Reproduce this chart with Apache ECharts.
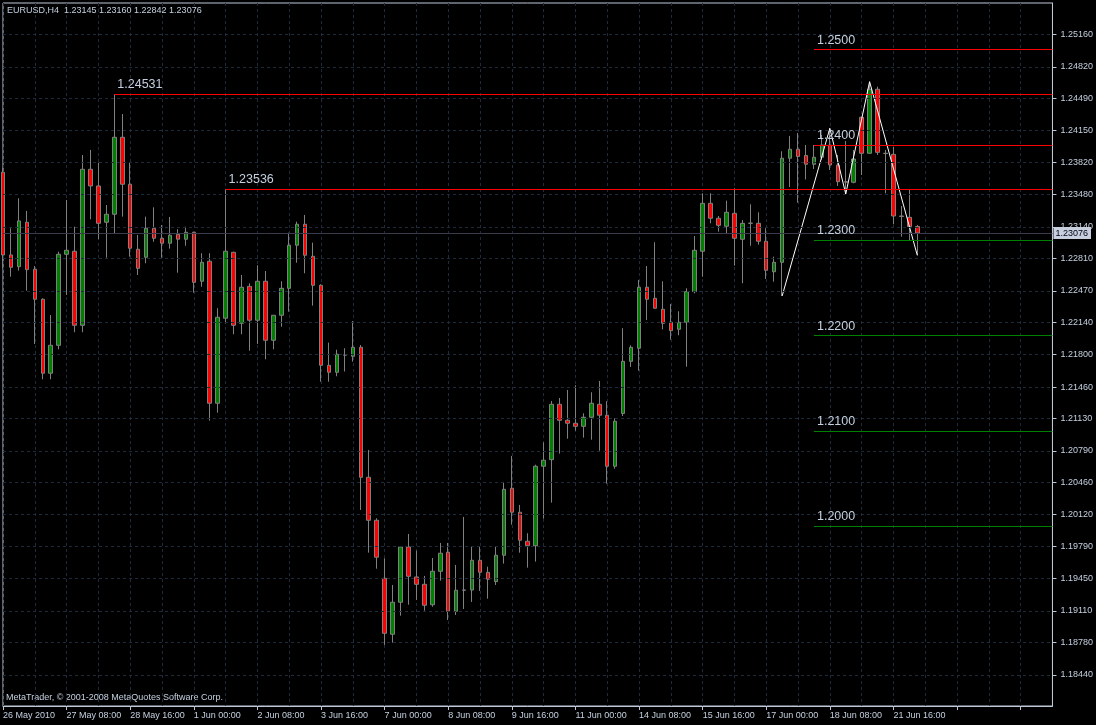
<!DOCTYPE html>
<html>
<head>
<meta charset="utf-8">
<script src="https://cdn.jsdelivr.net/npm/echarts@6/dist/echarts.min.js"></script>
<style>
html,body{margin:0;padding:0;background:#000;}
#chart{width:1096px;height:725px;}
</style>
</head>
<body>
<div id="chart"></div>
<script>
// ---- data (EURUSD, H4) ----
const symbolName = 'EURUSD,H4';
const xTickLabels = ['26 May 2010','27 May 08:00','28 May 16:00','1 Jun 00:00','2 Jun 08:00','3 Jun 16:00','7 Jun 00:00','8 Jun 08:00','9 Jun 16:00','11 Jun 00:00','14 Jun 08:00','15 Jun 16:00','17 Jun 00:00','18 Jun 08:00','21 Jun 16:00'];
const yTicks = [1.25160,1.24820,1.24490,1.24150,1.23820,1.23480,1.23140,1.22810,1.22470,1.22140,1.21800,1.21460,1.21130,1.20790,1.20460,1.20120,1.19790,1.19450,1.19110,1.18780,1.18440,1.18110];

const openP = [1.23714,1.22846,1.22723,1.23189,1.22696,1.22381,1.21605,1.21898,1.22853,1.22885,
1.22108,1.23745,1.2357,1.23189,1.23273,1.24081,1.23588,1.22906,1.22822,1.23126,
1.23021,1.22969,1.23063,1.23011,1.23084,1.2257,1.2278,1.2129,1.22182,1.22874,
1.22129,1.22517,1.22161,1.2257,1.21951,1.22213,1.22496,1.22948,1.23168,1.22832,
1.22528,1.21688,1.21615,1.21797,1.21783,1.21877,1.20513,1.20062,1.19453,1.18866,
1.19202,1.19782,1.19467,1.1939,1.19176,1.19527,1.19726,1.19107,1.19328,1.1933,
1.19642,1.19516,1.19418,1.19695,1.20398,1.20146,1.19842,1.19795,1.20629,1.20698,
1.21279,1.21111,1.2108,1.21048,1.21143,1.21279,1.21164,1.20629,1.21183,1.2173,
1.21867,1.22507,1.22391,1.22276,1.2214,1.22066,1.2214,1.22461,1.22885,1.23388,
1.23231,1.23147,1.23283,1.23011,1.23178,1.23178,1.2299,1.2267,1.22769,1.23861,
1.23955,1.2389,1.23798,1.23871,1.24,1.2379,1.23615,1.23609,1.24291,1.23913,
1.24585,1.23913,1.23902,1.23255,1.23241,1.23145];
const highP = [1.23759,1.23126,1.23441,1.23308,1.2273,1.22391,1.22216,1.2288,1.23423,1.23143,
1.23895,1.23948,1.23814,1.2337,1.24531,1.24325,1.23814,1.23056,1.23248,1.23346,
1.23161,1.23245,1.23116,1.23143,1.2309,1.22864,1.22864,1.22287,1.23536,1.2288,
1.22636,1.22549,1.22738,1.22678,1.22216,1.2257,1.2308,1.23195,1.23266,1.22975,
1.22538,1.21926,1.21852,1.21867,1.22153,1.21901,1.208,1.20083,1.19663,1.19383,
1.19792,1.19918,1.19743,1.19478,1.19666,1.19824,1.19824,1.19593,1.20097,1.19782,
1.19782,1.19575,1.19792,1.20464,1.20737,1.20223,1.19926,1.20645,1.2088,1.21314,
1.21345,1.21429,1.21479,1.21185,1.21405,1.21524,1.21311,1.21132,1.22077,1.21898,
1.22584,1.2273,1.22979,1.2257,1.22332,1.22255,1.22496,1.23045,1.23493,1.23493,
1.23255,1.23416,1.23546,1.23213,1.23378,1.23294,1.23126,1.22828,1.23934,1.24095,
1.24126,1.24,1.24,1.24105,1.24175,1.23895,1.24042,1.23948,1.24297,1.24664,
1.24612,1.23948,1.23982,1.2336,1.23535,1.2316];
const lowP = [1.22706,1.22618,1.22681,1.22471,1.21912,1.21542,1.21542,1.21856,1.22426,1.22035,
1.22035,1.2322,1.23011,1.22818,1.23074,1.23248,1.22828,1.22636,1.22759,1.22985,
1.22818,1.22912,1.2266,1.22943,1.2245,1.22513,1.21107,1.21191,1.22129,1.22014,
1.22014,1.21842,1.21912,1.21751,1.21856,1.22093,1.22251,1.22765,1.22654,1.22314,
1.21516,1.21516,1.21573,1.21623,1.21726,1.2017,1.19722,1.19554,1.18754,1.18778,
1.19061,1.19176,1.19226,1.19113,1.19155,1.19428,1.19016,1.19068,1.19131,1.19205,
1.1932,1.19239,1.19383,1.19607,1.20016,1.19722,1.19565,1.19628,1.20079,1.20247,
1.20761,1.20918,1.21002,1.20929,1.20908,1.20792,1.20446,1.20603,1.21156,1.21671,
1.21632,1.22164,1.22284,1.22066,1.21957,1.22003,1.21674,1.22444,1.22618,1.23178,
1.2309,1.23074,1.22734,1.22549,1.22943,1.22954,1.22594,1.22566,1.22416,1.23559,
1.23395,1.23638,1.23748,1.23843,1.23738,1.2357,1.23486,1.23598,1.23685,1.2391,
1.23895,1.23493,1.23168,1.23038,1.22993,1.22842];
const closeP = [1.22846,1.22717,1.23203,1.22692,1.22381,1.21605,1.21898,1.22853,1.22895,1.22108,
1.23745,1.2357,1.23178,1.23273,1.24081,1.23588,1.22916,1.22706,1.23126,1.23021,
1.22969,1.23053,1.23011,1.23084,1.22559,1.22769,1.2129,1.22192,1.22885,1.22108,
1.22507,1.22161,1.2257,1.21951,1.22213,1.22496,1.22948,1.23168,1.22843,1.22528,
1.21688,1.21615,1.21804,1.21795,1.21877,1.20513,1.20062,1.19674,1.18876,1.19202,
1.19782,1.19474,1.1939,1.1917,1.19527,1.19716,1.19107,1.19328,1.1933,1.19642,
1.19516,1.19443,1.19695,1.20387,1.20146,1.19852,1.19795,1.20629,1.20692,1.21279,
1.21111,1.2108,1.21048,1.21143,1.2129,1.21164,1.20629,1.21101,1.2173,1.21877,
1.22507,1.22381,1.22287,1.22129,1.22051,1.2214,1.22461,1.22895,1.23388,1.23231,
1.23157,1.23294,1.23021,1.23178,1.2318,1.2299,1.22685,1.22769,1.23861,1.23955,
1.23879,1.23798,1.23871,1.24,1.2379,1.23615,1.2361,1.23853,1.23913,1.24585,
1.23923,1.2391,1.23255,1.2325,1.23145,1.23076];

// horizontal level objects: price, first bar index, text
const levelPrices = [1.24531, 1.23536, 1.2500, 1.2400, 1.2300, 1.2200, 1.2100, 1.2000];
const levelStartBar = [14, 28, 102, 102, 102, 102, 102, 102];
const levelTexts = ['1.24531','1.23536','1.2500','1.2400','1.2300','1.2200','1.2100','1.2000'];

// zigzag pivots
const zigzagBars = [98, 104, 106, 109, 115];
const zigzagPrices = [1.22416, 1.24175, 1.23486, 1.24664, 1.22842];

// ---- chart ----
const FONT = 'Liberation Sans, Arial, sans-serif';
const AXIS_COL = '#c0c8d8';
const TEXT_COL = '#c4d0e0';
const GRID_COL = '#1f2a3a';
const levelColors = ['#ff0000','#ff0000','#ff0000','#ff0000','#008000','#008000','#008000','#008000'];

const nCats = 133;
const cats = [];
for (let i = 0; i < nCats; i++) cats.push(String(i));
const lastBar = cats.length - 1;

const candleData = openP.map((o, i) => [o, closeP[i], lowP[i], highP[i]]);
const n = openP.length;
const fmt = v => v.toFixed(5);
const titleText = symbolName + '  ' + fmt(openP[n-1]) + ' ' + fmt(highP[n-1]) + ' ' + fmt(lowP[n-1]) + ' ' + fmt(closeP[n-1]);

const levelSeries = levelPrices.map((p, k) => ({
  type: 'line', data: [], z: 3, silent: true, color: levelColors[k],
  markLine: {
    silent: true, symbol: 'none', animation: false, precision: 6,
    lineStyle: { color: levelColors[k], width: 1, type: 'solid', opacity: 1 },
    label: {
      show: true, position: 'insideStartTop', distance: 3, formatter: '{b}',
      color: TEXT_COL, fontSize: 12.5, fontFamily: FONT
    },
    data: [[ { name: levelTexts[k], coord: [levelStartBar[k], p] }, { coord: [lastBar, p] } ]]
  }
}));

const chart = echarts.init(document.getElementById('chart'), null, { renderer: 'canvas' });
chart.setOption({
  animation: false,
  backgroundColor: '#000000',
  textStyle: { fontFamily: FONT },
  title: {
    text: titleText, left: 2, top: 1,
    textStyle: { color: TEXT_COL, fontSize: 9, fontWeight: 'normal', fontFamily: FONT }
  },
  graphic: [{
    type: 'text', left: 6, top: 693,
    style: { text: 'MetaTrader, \u00a9 2001-2008 MetaQuotes Software Corp.', fill: TEXT_COL, font: '9px ' + FONT }
  }],
  grid: { left: 3, right: 37, top: 3, bottom: 19, show: true, borderColor: AXIS_COL, borderWidth: 1, backgroundColor: '#000000' },
  xAxis: {
    type: 'category', data: cats, boundaryGap: false,
    axisLine: { show: true, lineStyle: { color: AXIS_COL } },
    axisTick: { show: true, interval: 7, length: 4, lineStyle: { color: AXIS_COL } },
    axisLabel: {
      interval: 7, align: 'left', margin: 5, color: TEXT_COL, fontSize: 9, fontFamily: FONT,
      formatter: (v, idx) => xTickLabels[idx / 8] || ''
    },
    splitLine: { show: true, interval: 3, lineStyle: { color: GRID_COL, type: [3, 3], width: 1 } }
  },
  yAxis: {
    type: 'value', position: 'right', min: 1.18113, max: 1.2549,
    axisLine: { show: true, lineStyle: { color: AXIS_COL } },
    axisTick: { show: true, length: 4, customValues: yTicks, lineStyle: { color: AXIS_COL } },
    axisLabel: { customValues: yTicks, formatter: v => fmt(v), color: TEXT_COL, fontSize: 9, fontFamily: FONT, margin: 8 },
    splitLine: { show: false }
  },
  series: [
    {
      type: 'line', data: [], z: 1, silent: true, color: GRID_COL,
      markLine: {
        silent: true, symbol: 'none', animation: false, precision: 6,
        label: { show: false },
        lineStyle: { color: GRID_COL, type: [3, 3], width: 1 },
        data: yTicks.map(v => ({ yAxis: v }))
      }
    },
    {
      type: 'line', data: [], z: 1.5, silent: true, color: '#3a3a4c',
      markLine: {
        silent: true, symbol: 'none', animation: false, precision: 6,
        lineStyle: { color: '#3a3a4c', type: 'solid', width: 1 },
        label: {
          show: true, position: 'end', distance: 1, formatter: fmt(closeP[n-1]),
          backgroundColor: '#c8d0e0', color: '#000010', fontSize: 9, fontFamily: FONT, padding: [2, 3, 1, 2]
        },
        data: [{ yAxis: closeP[n-1] }]
      }
    },
    {
      type: 'candlestick', z: 2,
      data: candleData,
      barWidth: 4,
      itemStyle: {
        color: '#008000', color0: '#ff0000',
        borderColor: '#808080', borderColor0: '#808080', borderColorDoji: '#808080',
        borderWidth: 1
      }
    }
  ].concat(levelSeries, [
    {
      type: 'line', z: 4, silent: true, color: '#ffffff',
      data: zigzagBars.map((b, k) => [b, zigzagPrices[k]]),
      showSymbol: false, symbol: 'none',
      lineStyle: { color: '#ffffff', width: 1 }
    }
  ])
});
</script>
</body>
</html>
